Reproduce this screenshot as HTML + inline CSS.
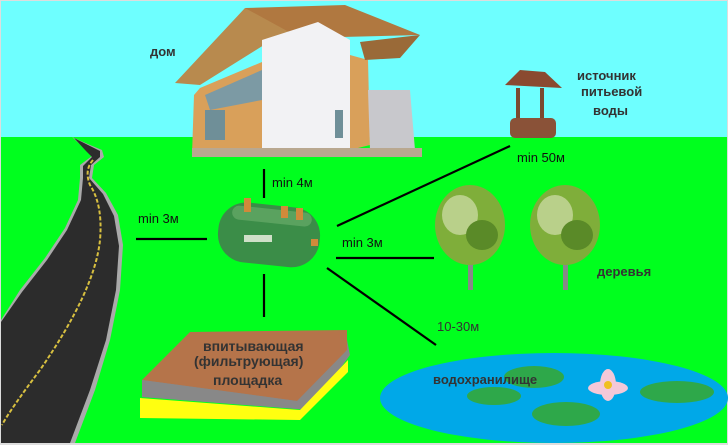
<!DOCTYPE html>
<html><head><meta charset="utf-8"><style>
html,body{margin:0;padding:0;background:#fff}
svg{display:block}
text{font-family:"Liberation Sans",sans-serif}
</style></head><body>
<svg width="728" height="445" viewBox="0 0 728 445" xmlns="http://www.w3.org/2000/svg">
<rect x="0" y="0" width="728" height="445" fill="#ddd"/>
<rect x="1" y="1" width="726" height="137" fill="#6effff"/>
<rect x="1" y="137" width="726" height="306" fill="#00ff1e"/>
<!-- road -->
<path d="M72,137 L90,145 L102,150 L104,157 L94,165 L92,178 L106,193 L118,215 L123,245 L120,290 L110,340 L95,390 L75,443 L1,443 L1,320 L20,290 L45,258 L65,228 L78,200 L80,178 L80,165 L92,156 L86,150 Z" fill="#aaa"/>
<path d="M74,138 L90,146 L100,151 L100,157 L91,165 L89,178 L103,194 L114,216 L119,246 L116,290 L106,340 L90,390 L70,443 L1,443 L1,322 L22,292 L47,260 L67,230 L81,200 L83,178 L83,166 L92,157 L86,151 Z" fill="#2c2c2c"/>
<path d="M93,160 Q84,170 90,185 Q103,205 100,240 Q95,290 40,370 Q10,410 2,425" fill="none" stroke="#d8c040" stroke-width="2" stroke-dasharray="4 2"/>
<!-- house -->
<polygon points="175,83 245,8 305,25 280,35 200,85" fill="#b88a4e"/>
<polygon points="245,8 345,5 420,35 300,38" fill="#b07840"/>
<polygon points="200,88 262,62 262,155 192,155 194,95" fill="#d9a05a"/>
<polygon points="205,95 262,70 262,100 210,110" fill="#7c9aa4"/>
<polygon points="262,40 318,22 350,40 350,150 262,155" fill="#f2f2f4"/>
<polygon points="350,55 368,60 370,145 350,150" fill="#d9a05a"/>
<polygon points="368,90 410,90 415,150 370,150" fill="#c8c8cc"/>
<rect x="205" y="110" width="20" height="30" fill="#6f8f98"/>
<rect x="335" y="110" width="8" height="28" fill="#6f8f98"/>
<rect x="192" y="148" width="230" height="9" fill="#b9a890"/>
<polygon points="360,42 420,35 400,58 365,60" fill="#9a6a38"/>
<text x="150" y="56" font-size="13" font-weight="bold" fill="#333">дом</text>
<!-- well -->
<polygon points="505,85 520,70 545,72 562,88" fill="#8a4a30"/>
<rect x="516" y="88" width="4" height="40" fill="#7a4a30"/>
<rect x="540" y="88" width="4" height="40" fill="#7a4a30"/>
<rect x="510" y="118" width="46" height="20" rx="5" fill="#8a5238"/>
<text x="577" y="80" font-size="13" font-weight="bold" fill="#333">источник</text>
<text x="581" y="96" font-size="13" font-weight="bold" fill="#333">питьевой</text>
<text x="593" y="115" font-size="13" font-weight="bold" fill="#333">воды</text>
<!-- trees -->
<g>
<rect x="468" y="240" width="5" height="50" fill="#888"/>
<ellipse cx="470" cy="225" rx="35" ry="40" fill="#7fae3a"/>
<ellipse cx="460" cy="215" rx="18" ry="20" fill="#b9d08a"/>
<ellipse cx="482" cy="235" rx="16" ry="15" fill="#5a8a28"/>
<rect x="563" y="240" width="5" height="50" fill="#888"/>
<ellipse cx="565" cy="225" rx="35" ry="40" fill="#7fae3a"/>
<ellipse cx="555" cy="215" rx="18" ry="20" fill="#b9d08a"/>
<ellipse cx="577" cy="235" rx="16" ry="15" fill="#5a8a28"/>
</g>
<text x="597" y="276" font-size="13" font-weight="bold" fill="#333">деревья</text>
<!-- lines -->
<g stroke="#000" stroke-width="2.2">
<line x1="264" y1="169" x2="264" y2="198"/>
<line x1="136" y1="239" x2="207" y2="239"/>
<line x1="337" y1="226" x2="510" y2="146"/>
<line x1="336" y1="258" x2="434" y2="258"/>
<line x1="327" y1="268" x2="436" y2="345"/>
<line x1="264" y1="274" x2="264" y2="317"/>
</g>
<text x="272" y="187" font-size="13" fill="#111">min 4м</text>
<text x="138" y="223" font-size="13" fill="#111">min 3м</text>
<text x="342" y="247" font-size="13" fill="#111">min 3м</text>
<text x="517" y="162" font-size="13" fill="#111">min 50м</text>
<text x="437" y="331" font-size="13" fill="#333">10-30м</text>
<!-- tank -->
<rect x="218" y="205" width="102" height="60" rx="28" fill="#3b8d48" transform="rotate(6 270 235)"/>
<rect x="230" y="209" width="80" height="14" rx="7" fill="#6fb070" transform="rotate(6 270 235)" opacity="0.6"/>
<rect x="244" y="198" width="7" height="14" fill="#d08a3a"/>
<rect x="281" y="206" width="7" height="12" fill="#d08a3a"/>
<rect x="296" y="208" width="7" height="12" fill="#d08a3a"/>
<rect x="244" y="235" width="28" height="7" fill="#cfe0c8"/>
<rect x="311" y="239" width="7" height="7" fill="#d08a3a"/>
<!-- pad -->
<polygon points="142,380 346,335 350,355 310,410 142,397" fill="#888"/>
<polygon points="142,380 190,332 347,330 347,350 297,401" fill="#b5744a"/>
<polygon points="142,380 297,401 310,410 142,397" fill="#888"/>
<polygon points="140,398 300,410 300,420 140,418" fill="#ffff10"/>
<polygon points="300,410 348,360 348,372 300,420" fill="#ffff10"/>
<text x="203" y="351" font-size="14" font-weight="bold" fill="#333">впитывающая</text>
<text x="194" y="366" font-size="14" font-weight="bold" fill="#333">(фильтрующая)</text>
<text x="213" y="385" font-size="14" font-weight="bold" fill="#333">площадка</text>
<!-- pond -->
<ellipse cx="554" cy="398" rx="174" ry="45" fill="#00a8e8"/>
<ellipse cx="534" cy="377" rx="30" ry="11" fill="#2ea84a"/>
<ellipse cx="494" cy="396" rx="27" ry="9" fill="#2ea84a"/>
<ellipse cx="566" cy="414" rx="34" ry="12" fill="#2ea84a"/>
<ellipse cx="677" cy="392" rx="37" ry="11" fill="#2ea84a"/>
<g fill="#f4c8d8">
<ellipse cx="608" cy="385" rx="8" ry="16"/>
<ellipse cx="608" cy="388" rx="20" ry="7"/>
</g>
<circle cx="608" cy="385" r="4" fill="#f0c020"/>
<text x="433" y="384" font-size="13" font-weight="bold" fill="#333">водохранилище</text>
</svg>
</body></html>
